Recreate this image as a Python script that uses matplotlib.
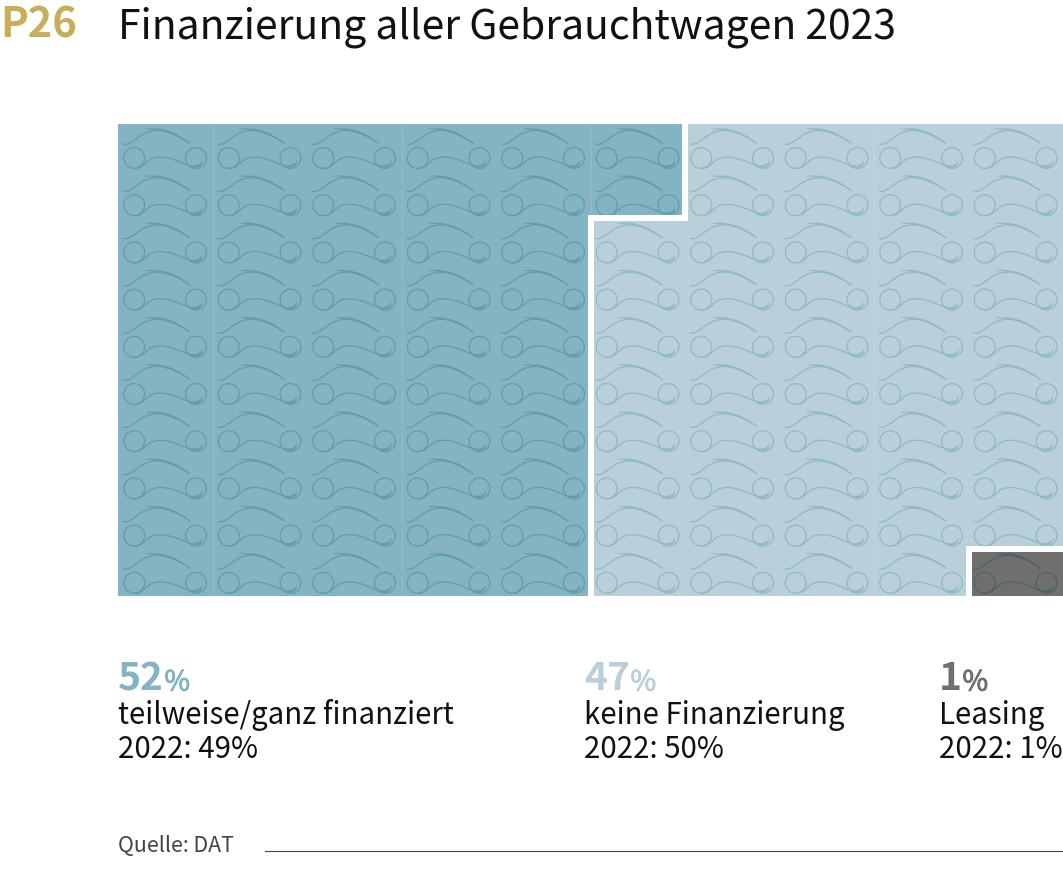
import matplotlib
matplotlib.use("Agg")
import matplotlib.patheffects as pe
import matplotlib.pyplot as plt
from matplotlib.patches import PathPatch, Rectangle
from matplotlib.path import Path
from matplotlib.transforms import Affine2D

plt.rcParams['font.family'] = ['Noto Sans CJK SC', 'DejaVu Sans']

FIG_W, FIG_H = 1063, 886

# chart data
shares = [52, 47, 1]
labels = ["teilweise/ganz finanziert", "keine Finanzierung", "Leasing"]
prev_year = ["2022: 49%", "2022: 50%", "2022: 1%"]
colors = ["#84b3c3", "#b9d0da", "#706f6f"]
car_colors = ["#5e9eac", "#8fb9c4", "#4d6266"]
seam_colors = ["#93bdcb", "#c1d6de", "#706f6f"]
label_x = [118, 584, 939]
seam_cols = [1, 3, 5, 8]
n_cols = 10
n_rows = 10

fig = plt.figure(figsize=(FIG_W / 100, FIG_H / 100), dpi=100)
ax = fig.add_axes([118 / FIG_W, 1 - 596 / FIG_H, 945 / FIG_W, 472 / FIG_H])
ax.set_xlim(0, n_cols)
ax.set_ylim(n_rows, 0)
ax.axis("off")

cell_w = 94.5
cell_h = 47.2

# one car, drawn in pixels inside its cell
c4 = Path.CURVE4
lines = [
    Path.circle((16.2, 34), 10.4),
    Path.circle((78, 34), 10.4),
    Path([(5, 20), (11, 21.5), (15, 17), (22, 12), (30, 6.5), (38, 5.5), (47, 7), (58, 9), (65, 15), (72, 19.5)],
         [Path.MOVETO] + [c4] * 9),
    Path([(16.2, 44.4), (24, 45), (27, 38), (33, 35), (38, 32.5), (45, 32.5), (52, 34.5), (60, 36.5), (66, 40), (73, 42)],
         [Path.MOVETO] + [c4] * 9),
]
fills = [
    Path([(27, 5), (40, 2.8), (55, 6), (72, 19.5), (58, 10.5), (44, 5.5), (27, 5)], [Path.MOVETO] + [c4] * 6),
    Path([(70, 41), (76, 45.5), (84.5, 44), (84.3, 36.5), (83, 40.5), (78, 43), (70, 41)], [Path.MOVETO] + [c4] * 6),
]

# cells run down each column, then on to the next column
cells = []
for i, share in enumerate(shares):
    cells += [i] * share
grid = [[cells[c * n_rows + r] for r in range(n_rows)] for c in range(n_cols)]

for c in range(n_cols):
    for r in range(n_rows):
        k = grid[c][r]
        ax.add_patch(Rectangle((c, r), 1, 1, fc=colors[k], ec="none", zorder=1))
        tr = Affine2D().scale(1 / cell_w, 1 / cell_h).translate(c, r)
        for p in lines:
            ax.add_patch(PathPatch(p.transformed(tr), fc="none", ec=car_colors[k], lw=0.9, zorder=2))
        for p in fills:
            ax.add_patch(PathPatch(p.transformed(tr), fc=car_colors[k], ec=car_colors[k], lw=0.2, zorder=2))

# faint seams between some columns
for c in seam_cols:
    for r in range(n_rows):
        if grid[c][r] == grid[c - 1][r]:
            ax.plot([c, c], [r, r + 1], color=seam_colors[grid[c][r]], lw=0.7, zorder=1.5, solid_capstyle="butt")

# white gaps where the category changes
gap = 6 * 72 / 100
for c in range(n_cols):
    for r in range(n_rows):
        if c > 0 and grid[c][r] != grid[c - 1][r]:
            ax.plot([c, c], [r, r + 1], color="white", lw=gap, zorder=3, solid_capstyle="projecting")
        if r > 0 and grid[c][r] != grid[c][r - 1]:
            ax.plot([c, c + 1], [r, r], color="white", lw=gap, zorder=3, solid_capstyle="projecting")


def txt(x, y, s, size, **kw):
    return fig.text(x / FIG_W, 1 - y / FIG_H, s, fontsize=size, va="baseline", ha="left", **kw)


txt(0, 37.5, "P26", 30, color="#c8ae58", fontweight="bold")
txt(118, 38, "Finanzierung aller Gebrauchtwagen 2023", 29.4, color="#111111")

fig.canvas.draw()
rend = fig.canvas.get_renderer()
for i, share in enumerate(shares):
    t = txt(label_x[i], 690.5, str(share), 28, color=colors[i], fontweight="bold")
    x_end = t.get_window_extent(rend).x1
    pct = txt(x_end + 0.5, 690.5, "%", 20, color=colors[i])
    pct.set_path_effects([pe.withStroke(linewidth=0.7, foreground=colors[i])])
    txt(label_x[i], 724, labels[i], 21.2, color="#111111")
    txt(label_x[i], 758, prev_year[i], 21.2, color="#111111")

txt(118, 852, "Quelle: DAT", 15.4, color="#444444")
fig.add_artist(plt.Line2D([265 / FIG_W, 1], [1 - 851 / FIG_H] * 2, color="#444444", lw=0.8))

fig.savefig("out.png", dpi=100)
